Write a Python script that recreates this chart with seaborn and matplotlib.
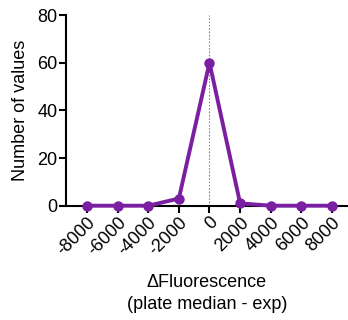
import matplotlib
matplotlib.use("Agg")
import matplotlib.pyplot as plt
import seaborn as sns
import pandas as pd

bins = [-8000, -6000, -4000, -2000, 0, 2000, 4000, 6000, 8000]
counts = [0, 0, 0, 3, 60, 1, 0, 0, 0]
xticks = bins
yticks = [0, 20, 40, 60, 80]

sns.set_style("ticks")
plt.rcParams['font.family'] = ['Liberation Sans', 'DejaVu Sans']
plt.rcParams['text.color'] = 'black'
plt.rcParams['axes.labelcolor'] = 'black'
plt.rcParams['xtick.color'] = 'black'
plt.rcParams['ytick.color'] = 'black'

W, H = 348, 320
fig = plt.figure(figsize=(W / 100, H / 100), dpi=100)
ax = fig.add_axes([66 / W, 1 - 205.7 / H, (348 - 66) / W, (205.7 - 15) / H])

df = pd.DataFrame({"x": bins, "y": counts})
color = "#7B1FA2"
ax.axvline(0, color="#888888", lw=0.8, ls=(0, (1.5, 1.5)), zorder=1)
sns.lineplot(data=df, x="x", y="y", ax=ax, color=color, lw=2.8, marker="o",
             markersize=7.5, markeredgewidth=0, zorder=3, clip_on=False)

fs = 13
ax.set_xlim(-9370, 9045)
ax.set_ylim(0, 80)
ax.set_xticks(xticks)
ax.set_xticklabels([str(v) for v in xticks], rotation=45, ha="right",
                   rotation_mode="anchor", fontsize=fs)
ax.set_yticks(yticks)
ax.set_yticklabels([str(v) for v in yticks], fontsize=fs)
ax.tick_params(width=1.5, length=5, color="black", pad=1)
for s in ["left", "bottom"]:
    ax.spines[s].set_linewidth(1.5)
    ax.spines[s].set_color("black")
sns.despine(ax=ax)
ax.set_xlabel("ΔFluorescence\n(plate median - exp)", fontsize=fs, labelpad=11,
              linespacing=1.35)
ax.set_ylabel("Number of values", fontsize=fs, labelpad=6)

fig.savefig("out.png", dpi=100)
